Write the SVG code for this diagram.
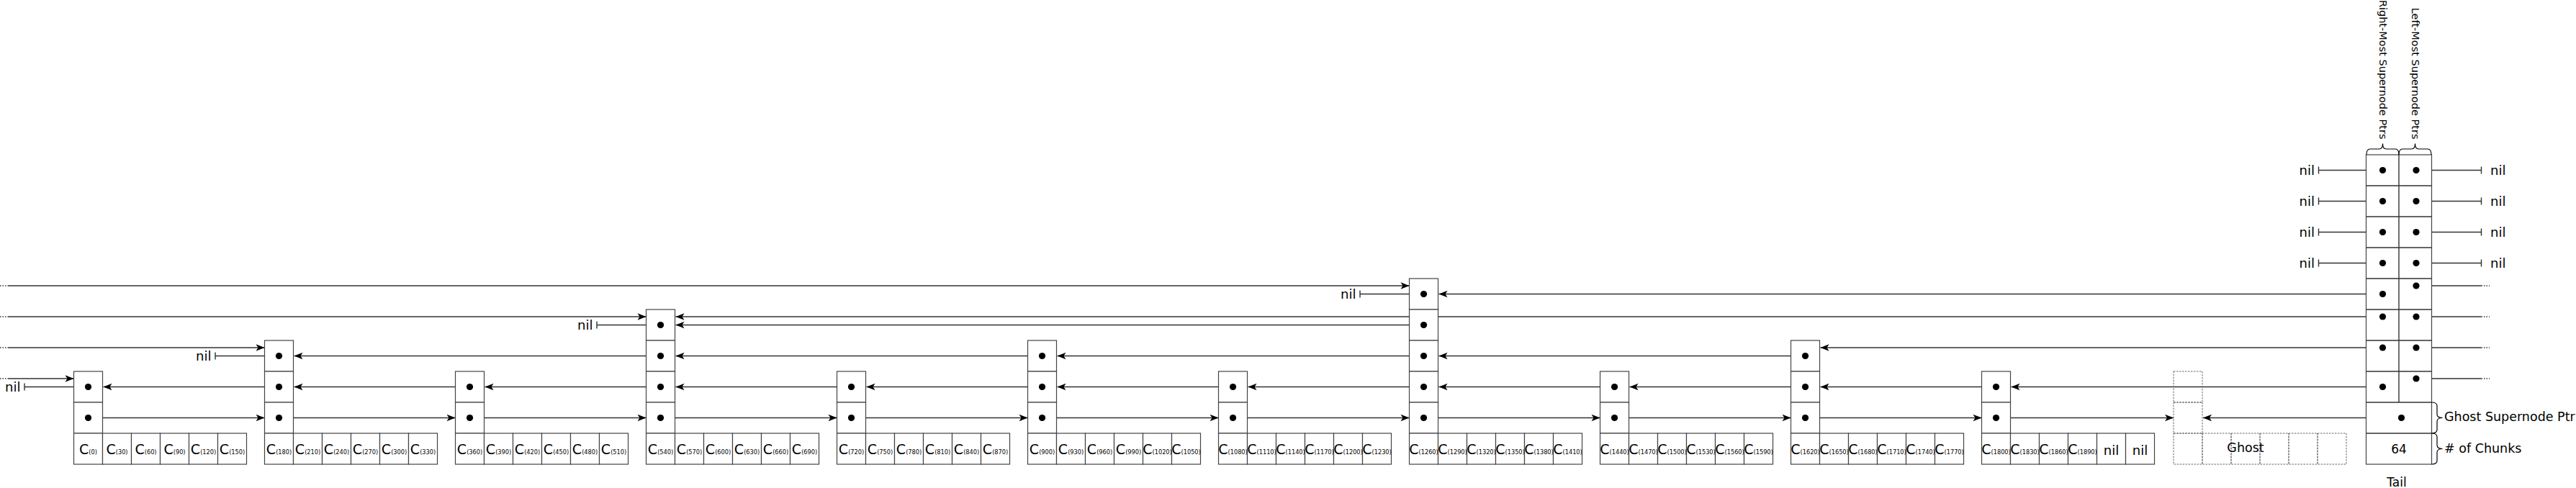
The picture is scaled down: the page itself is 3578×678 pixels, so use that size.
<svg xmlns="http://www.w3.org/2000/svg" width="3578" height="678" viewBox="0 0 3578 678">
<style>
.box{fill:#fff;stroke:#444;stroke-width:1.2}
.gh{fill:none;stroke:#666;stroke-width:1;stroke-dasharray:2.5,1.5}
.ln{fill:none;stroke:#333;stroke-width:1.4}
.ar{fill:none;stroke:#333;stroke-width:1.4;marker-end:url(#ah)}
.dt{fill:none;stroke:#333;stroke-width:1.4;stroke-dasharray:1.5,2}
.br{fill:none;stroke:#000;stroke-width:1.2}
.d{fill:#000}
.t{font-family:"DejaVu Sans","Liberation Sans",sans-serif;fill:#000}
.c{font-size:19px;text-anchor:middle}
.s{font-size:8.2px}
.nil{font-size:18px}
.lab{font-size:17.5px}
.vl{font-size:14.5px;text-anchor:end}
</style>
<defs>
<marker id="ah" viewBox="-13 -6 14 12" refX="0" refY="0" markerWidth="14" markerHeight="12" markerUnits="userSpaceOnUse" orient="auto"><path d="M0,0 L-12,-4.8 L-9,0 L-12,4.8 Z" fill="#000"/></marker>
</defs>
<rect width="3578" height="678" fill="#fff"/>

<g id="connectors">
<!-- level 0 forward -->
<path class="ar" d="M122.5,580.5 H367.5"/>
<path class="ar" d="M387.5,580.5 H632.5"/>
<path class="ar" d="M652.5,580.5 H897.5"/>
<path class="ar" d="M917.5,580.5 H1162.5"/>
<path class="ar" d="M1182.5,580.5 H1427.5"/>
<path class="ar" d="M1447.5,580.5 H1692.5"/>
<path class="ar" d="M1712.5,580.5 H1957.5"/>
<path class="ar" d="M1977.5,580.5 H2222.5"/>
<path class="ar" d="M2242.5,580.5 H2487.5"/>
<path class="ar" d="M2507.5,580.5 H2752.5"/>
<path class="ar" d="M2772.5,580.5 H3019"/>
<!-- level 1 backward -->
<path class="ln" d="M122.5,537.5 H34 M34,532.5 V542.5"/>
<path class="ar" d="M387.5,537.5 H143.5"/>
<path class="ar" d="M652.5,537.5 H408.5"/>
<path class="ar" d="M917.5,537.5 H673.5"/>
<path class="ar" d="M1182.5,537.5 H938.5"/>
<path class="ar" d="M1447.5,537.5 H1203.5"/>
<path class="ar" d="M1712.5,537.5 H1468.5"/>
<path class="ar" d="M1977.5,537.5 H1733.5"/>
<path class="ar" d="M2242.5,537.5 H1998.5"/>
<path class="ar" d="M2507.5,537.5 H2263.5"/>
<path class="ar" d="M2772.5,537.5 H2528.5"/>
<!-- level 2 backward -->
<path class="ln" d="M387.5,494.5 H299 M299,489.5 V499.5"/>
<path class="ar" d="M917.5,494.5 H408.5"/>
<path class="ar" d="M1447.5,494.5 H938.5"/>
<path class="ar" d="M1977.5,494.5 H1468.5"/>
<path class="ar" d="M2507.5,494.5 H1998.5"/>
<!-- level 3 backward -->
<path class="ln" d="M917.5,451.5 H829 M829,446.5 V456.5"/>
<path class="ar" d="M1977.5,451.5 H938.5"/>
<!-- level 4 backward -->
<path class="ln" d="M1977.5,408.5 H1889 M1889,403.5 V413.5"/>
<!-- wrap-around from left -->
<path class="dt" d="M0,397 H11 M0,440 H11 M0,483 H11 M0,526 H11"/>
<path class="ar" d="M11,397 H1957.5"/>
<path class="ar" d="M11,440 H897.5"/>
<path class="ar" d="M11,483 H367.5"/>
<path class="ar" d="M11,526 H102.5"/>
<!-- tail right-most pointers -->
<path class="ln" d="M3309.5,236.5 H3220.5 M3220.5,231.5 V241.5"/>
<path class="ln" d="M3309.5,279.5 H3220.5 M3220.5,274.5 V284.5"/>
<path class="ln" d="M3309.5,322.5 H3220.5 M3220.5,317.5 V327.5"/>
<path class="ln" d="M3309.5,365.5 H3220.5 M3220.5,360.5 V370.5"/>
<path class="ar" d="M3309.5,408.5 H1998.5"/>
<path class="ar" d="M3309.5,440 H938.5"/>
<path class="ar" d="M3309.5,483 H2528.5"/>
<path class="ar" d="M3309.5,537.5 H2793.5"/>
<path class="ar" d="M3335.5,580.5 H3060"/>
<!-- tail left-most pointers -->
<path class="ln" d="M3356,236.5 H3446.5 M3446.5,231.5 V241.5"/>
<path class="ln" d="M3356,279.5 H3446.5 M3446.5,274.5 V284.5"/>
<path class="ln" d="M3356,322.5 H3446.5 M3446.5,317.5 V327.5"/>
<path class="ln" d="M3356,365.5 H3446.5 M3446.5,360.5 V370.5"/>
<path class="ln" d="M3356,397 H3446.5 M3356,440 H3446.5 M3356,483 H3446.5 M3356,526 H3446.5"/>
<path class="dt" d="M3446.5,397 H3458 M3446.5,440 H3458 M3446.5,483 H3458 M3446.5,526 H3458"/>
</g>

<g id="node-0">
<rect class="box" x="102.5" y="516" width="40" height="43"/><rect class="box" x="102.5" y="559" width="40" height="43"/>
<rect class="box" x="102.5" y="602" width="40" height="43"/><rect class="box" x="142.5" y="602" width="40" height="43"/><rect class="box" x="182.5" y="602" width="40" height="43"/><rect class="box" x="222.5" y="602" width="40" height="43"/><rect class="box" x="262.5" y="602" width="40" height="43"/><rect class="box" x="302.5" y="602" width="40" height="43"/>
<circle class="d" cx="122.5" cy="537.5" r="4.6"/><circle class="d" cx="122.5" cy="580.5" r="4.6"/>
<text class="t nil" x="28.5" y="543.5" text-anchor="end">nil</text>
<text class="t c" x="122.5" y="631">C<tspan class="s">(0)</tspan></text>
<text class="t c" x="162.5" y="631">C<tspan class="s">(30)</tspan></text>
<text class="t c" x="202.5" y="631">C<tspan class="s">(60)</tspan></text>
<text class="t c" x="242.5" y="631">C<tspan class="s">(90)</tspan></text>
<text class="t c" x="282.5" y="631">C<tspan class="s">(120)</tspan></text>
<text class="t c" x="322.5" y="631">C<tspan class="s">(150)</tspan></text>
</g>

<g id="node-1">
<rect class="box" x="367.5" y="473" width="40" height="43"/><rect class="box" x="367.5" y="516" width="40" height="43"/><rect class="box" x="367.5" y="559" width="40" height="43"/>
<rect class="box" x="367.5" y="602" width="40" height="43"/><rect class="box" x="407.5" y="602" width="40" height="43"/><rect class="box" x="447.5" y="602" width="40" height="43"/><rect class="box" x="487.5" y="602" width="40" height="43"/><rect class="box" x="527.5" y="602" width="40" height="43"/><rect class="box" x="567.5" y="602" width="40" height="43"/>
<circle class="d" cx="387.5" cy="494.5" r="4.6"/><circle class="d" cx="387.5" cy="537.5" r="4.6"/><circle class="d" cx="387.5" cy="580.5" r="4.6"/>
<text class="t nil" x="293.5" y="500.5" text-anchor="end">nil</text>
<text class="t c" x="387.5" y="631">C<tspan class="s">(180)</tspan></text>
<text class="t c" x="427.5" y="631">C<tspan class="s">(210)</tspan></text>
<text class="t c" x="467.5" y="631">C<tspan class="s">(240)</tspan></text>
<text class="t c" x="507.5" y="631">C<tspan class="s">(270)</tspan></text>
<text class="t c" x="547.5" y="631">C<tspan class="s">(300)</tspan></text>
<text class="t c" x="587.5" y="631">C<tspan class="s">(330)</tspan></text>
</g>

<g id="node-2">
<rect class="box" x="632.5" y="516" width="40" height="43"/><rect class="box" x="632.5" y="559" width="40" height="43"/>
<rect class="box" x="632.5" y="602" width="40" height="43"/><rect class="box" x="672.5" y="602" width="40" height="43"/><rect class="box" x="712.5" y="602" width="40" height="43"/><rect class="box" x="752.5" y="602" width="40" height="43"/><rect class="box" x="792.5" y="602" width="40" height="43"/><rect class="box" x="832.5" y="602" width="40" height="43"/>
<circle class="d" cx="652.5" cy="537.5" r="4.6"/><circle class="d" cx="652.5" cy="580.5" r="4.6"/>
<text class="t c" x="652.5" y="631">C<tspan class="s">(360)</tspan></text>
<text class="t c" x="692.5" y="631">C<tspan class="s">(390)</tspan></text>
<text class="t c" x="732.5" y="631">C<tspan class="s">(420)</tspan></text>
<text class="t c" x="772.5" y="631">C<tspan class="s">(450)</tspan></text>
<text class="t c" x="812.5" y="631">C<tspan class="s">(480)</tspan></text>
<text class="t c" x="852.5" y="631">C<tspan class="s">(510)</tspan></text>
</g>

<g id="node-3">
<rect class="box" x="897.5" y="430" width="40" height="43"/><rect class="box" x="897.5" y="473" width="40" height="43"/><rect class="box" x="897.5" y="516" width="40" height="43"/><rect class="box" x="897.5" y="559" width="40" height="43"/>
<rect class="box" x="897.5" y="602" width="40" height="43"/><rect class="box" x="937.5" y="602" width="40" height="43"/><rect class="box" x="977.5" y="602" width="40" height="43"/><rect class="box" x="1017.5" y="602" width="40" height="43"/><rect class="box" x="1057.5" y="602" width="40" height="43"/><rect class="box" x="1097.5" y="602" width="40" height="43"/>
<circle class="d" cx="917.5" cy="451.5" r="4.6"/><circle class="d" cx="917.5" cy="494.5" r="4.6"/><circle class="d" cx="917.5" cy="537.5" r="4.6"/><circle class="d" cx="917.5" cy="580.5" r="4.6"/>
<text class="t nil" x="823.5" y="457.5" text-anchor="end">nil</text>
<text class="t c" x="917.5" y="631">C<tspan class="s">(540)</tspan></text>
<text class="t c" x="957.5" y="631">C<tspan class="s">(570)</tspan></text>
<text class="t c" x="997.5" y="631">C<tspan class="s">(600)</tspan></text>
<text class="t c" x="1037.5" y="631">C<tspan class="s">(630)</tspan></text>
<text class="t c" x="1077.5" y="631">C<tspan class="s">(660)</tspan></text>
<text class="t c" x="1117.5" y="631">C<tspan class="s">(690)</tspan></text>
</g>

<g id="node-4">
<rect class="box" x="1162.5" y="516" width="40" height="43"/><rect class="box" x="1162.5" y="559" width="40" height="43"/>
<rect class="box" x="1162.5" y="602" width="40" height="43"/><rect class="box" x="1202.5" y="602" width="40" height="43"/><rect class="box" x="1242.5" y="602" width="40" height="43"/><rect class="box" x="1282.5" y="602" width="40" height="43"/><rect class="box" x="1322.5" y="602" width="40" height="43"/><rect class="box" x="1362.5" y="602" width="40" height="43"/>
<circle class="d" cx="1182.5" cy="537.5" r="4.6"/><circle class="d" cx="1182.5" cy="580.5" r="4.6"/>
<text class="t c" x="1182.5" y="631">C<tspan class="s">(720)</tspan></text>
<text class="t c" x="1222.5" y="631">C<tspan class="s">(750)</tspan></text>
<text class="t c" x="1262.5" y="631">C<tspan class="s">(780)</tspan></text>
<text class="t c" x="1302.5" y="631">C<tspan class="s">(810)</tspan></text>
<text class="t c" x="1342.5" y="631">C<tspan class="s">(840)</tspan></text>
<text class="t c" x="1382.5" y="631">C<tspan class="s">(870)</tspan></text>
</g>

<g id="node-5">
<rect class="box" x="1427.5" y="473" width="40" height="43"/><rect class="box" x="1427.5" y="516" width="40" height="43"/><rect class="box" x="1427.5" y="559" width="40" height="43"/>
<rect class="box" x="1427.5" y="602" width="40" height="43"/><rect class="box" x="1467.5" y="602" width="40" height="43"/><rect class="box" x="1507.5" y="602" width="40" height="43"/><rect class="box" x="1547.5" y="602" width="40" height="43"/><rect class="box" x="1587.5" y="602" width="40" height="43"/><rect class="box" x="1627.5" y="602" width="40" height="43"/>
<circle class="d" cx="1447.5" cy="494.5" r="4.6"/><circle class="d" cx="1447.5" cy="537.5" r="4.6"/><circle class="d" cx="1447.5" cy="580.5" r="4.6"/>
<text class="t c" x="1447.5" y="631">C<tspan class="s">(900)</tspan></text>
<text class="t c" x="1487.5" y="631">C<tspan class="s">(930)</tspan></text>
<text class="t c" x="1527.5" y="631">C<tspan class="s">(960)</tspan></text>
<text class="t c" x="1567.5" y="631">C<tspan class="s">(990)</tspan></text>
<text class="t c" x="1607.5" y="631">C<tspan class="s">(1020)</tspan></text>
<text class="t c" x="1647.5" y="631">C<tspan class="s">(1050)</tspan></text>
</g>

<g id="node-6">
<rect class="box" x="1692.5" y="516" width="40" height="43"/><rect class="box" x="1692.5" y="559" width="40" height="43"/>
<rect class="box" x="1692.5" y="602" width="40" height="43"/><rect class="box" x="1732.5" y="602" width="40" height="43"/><rect class="box" x="1772.5" y="602" width="40" height="43"/><rect class="box" x="1812.5" y="602" width="40" height="43"/><rect class="box" x="1852.5" y="602" width="40" height="43"/><rect class="box" x="1892.5" y="602" width="40" height="43"/>
<circle class="d" cx="1712.5" cy="537.5" r="4.6"/><circle class="d" cx="1712.5" cy="580.5" r="4.6"/>
<text class="t c" x="1712.5" y="631">C<tspan class="s">(1080)</tspan></text>
<text class="t c" x="1752.5" y="631">C<tspan class="s">(1110)</tspan></text>
<text class="t c" x="1792.5" y="631">C<tspan class="s">(1140)</tspan></text>
<text class="t c" x="1832.5" y="631">C<tspan class="s">(1170)</tspan></text>
<text class="t c" x="1872.5" y="631">C<tspan class="s">(1200)</tspan></text>
<text class="t c" x="1912.5" y="631">C<tspan class="s">(1230)</tspan></text>
</g>

<g id="node-7">
<rect class="box" x="1957.5" y="387" width="40" height="43"/><rect class="box" x="1957.5" y="430" width="40" height="43"/><rect class="box" x="1957.5" y="473" width="40" height="43"/><rect class="box" x="1957.5" y="516" width="40" height="43"/><rect class="box" x="1957.5" y="559" width="40" height="43"/>
<rect class="box" x="1957.5" y="602" width="40" height="43"/><rect class="box" x="1997.5" y="602" width="40" height="43"/><rect class="box" x="2037.5" y="602" width="40" height="43"/><rect class="box" x="2077.5" y="602" width="40" height="43"/><rect class="box" x="2117.5" y="602" width="40" height="43"/><rect class="box" x="2157.5" y="602" width="40" height="43"/>
<circle class="d" cx="1977.5" cy="408.5" r="4.6"/><circle class="d" cx="1977.5" cy="451.5" r="4.6"/><circle class="d" cx="1977.5" cy="494.5" r="4.6"/><circle class="d" cx="1977.5" cy="537.5" r="4.6"/><circle class="d" cx="1977.5" cy="580.5" r="4.6"/>
<text class="t nil" x="1883.5" y="414.5" text-anchor="end">nil</text>
<text class="t c" x="1977.5" y="631">C<tspan class="s">(1260)</tspan></text>
<text class="t c" x="2017.5" y="631">C<tspan class="s">(1290)</tspan></text>
<text class="t c" x="2057.5" y="631">C<tspan class="s">(1320)</tspan></text>
<text class="t c" x="2097.5" y="631">C<tspan class="s">(1350)</tspan></text>
<text class="t c" x="2137.5" y="631">C<tspan class="s">(1380)</tspan></text>
<text class="t c" x="2177.5" y="631">C<tspan class="s">(1410)</tspan></text>
</g>

<g id="node-8">
<rect class="box" x="2222.5" y="516" width="40" height="43"/><rect class="box" x="2222.5" y="559" width="40" height="43"/>
<rect class="box" x="2222.5" y="602" width="40" height="43"/><rect class="box" x="2262.5" y="602" width="40" height="43"/><rect class="box" x="2302.5" y="602" width="40" height="43"/><rect class="box" x="2342.5" y="602" width="40" height="43"/><rect class="box" x="2382.5" y="602" width="40" height="43"/><rect class="box" x="2422.5" y="602" width="40" height="43"/>
<circle class="d" cx="2242.5" cy="537.5" r="4.6"/><circle class="d" cx="2242.5" cy="580.5" r="4.6"/>
<text class="t c" x="2242.5" y="631">C<tspan class="s">(1440)</tspan></text>
<text class="t c" x="2282.5" y="631">C<tspan class="s">(1470)</tspan></text>
<text class="t c" x="2322.5" y="631">C<tspan class="s">(1500)</tspan></text>
<text class="t c" x="2362.5" y="631">C<tspan class="s">(1530)</tspan></text>
<text class="t c" x="2402.5" y="631">C<tspan class="s">(1560)</tspan></text>
<text class="t c" x="2442.5" y="631">C<tspan class="s">(1590)</tspan></text>
</g>

<g id="node-9">
<rect class="box" x="2487.5" y="473" width="40" height="43"/><rect class="box" x="2487.5" y="516" width="40" height="43"/><rect class="box" x="2487.5" y="559" width="40" height="43"/>
<rect class="box" x="2487.5" y="602" width="40" height="43"/><rect class="box" x="2527.5" y="602" width="40" height="43"/><rect class="box" x="2567.5" y="602" width="40" height="43"/><rect class="box" x="2607.5" y="602" width="40" height="43"/><rect class="box" x="2647.5" y="602" width="40" height="43"/><rect class="box" x="2687.5" y="602" width="40" height="43"/>
<circle class="d" cx="2507.5" cy="494.5" r="4.6"/><circle class="d" cx="2507.5" cy="537.5" r="4.6"/><circle class="d" cx="2507.5" cy="580.5" r="4.6"/>
<text class="t c" x="2507.5" y="631">C<tspan class="s">(1620)</tspan></text>
<text class="t c" x="2547.5" y="631">C<tspan class="s">(1650)</tspan></text>
<text class="t c" x="2587.5" y="631">C<tspan class="s">(1680)</tspan></text>
<text class="t c" x="2627.5" y="631">C<tspan class="s">(1710)</tspan></text>
<text class="t c" x="2667.5" y="631">C<tspan class="s">(1740)</tspan></text>
<text class="t c" x="2707.5" y="631">C<tspan class="s">(1770)</tspan></text>
</g>

<g id="node-10">
<rect class="box" x="2752.5" y="516" width="40" height="43"/><rect class="box" x="2752.5" y="559" width="40" height="43"/>
<rect class="box" x="2752.5" y="602" width="40" height="43"/><rect class="box" x="2792.5" y="602" width="40" height="43"/><rect class="box" x="2832.5" y="602" width="40" height="43"/><rect class="box" x="2872.5" y="602" width="40" height="43"/><rect class="box" x="2912.5" y="602" width="40" height="43"/><rect class="box" x="2952.5" y="602" width="40" height="43"/>
<circle class="d" cx="2772.5" cy="537.5" r="4.6"/><circle class="d" cx="2772.5" cy="580.5" r="4.6"/>
<text class="t c" x="2772.5" y="631">C<tspan class="s">(1800)</tspan></text>
<text class="t c" x="2812.5" y="631">C<tspan class="s">(1830)</tspan></text>
<text class="t c" x="2852.5" y="631">C<tspan class="s">(1860)</tspan></text>
<text class="t c" x="2892.5" y="631">C<tspan class="s">(1890)</tspan></text>
<text class="t nil" x="2932.5" y="631.5" text-anchor="middle">nil</text>
<text class="t nil" x="2972.5" y="631.5" text-anchor="middle">nil</text>
</g>

<g id="ghost">
<rect class="gh" x="3019" y="516" width="40" height="43"/><rect class="gh" x="3019" y="559" width="40" height="43"/>
<rect class="gh" x="3019" y="602" width="40" height="43"/><rect class="gh" x="3059" y="602" width="40" height="43"/><rect class="gh" x="3099" y="602" width="40" height="43"/><rect class="gh" x="3139" y="602" width="40" height="43"/><rect class="gh" x="3179" y="602" width="40" height="43"/><rect class="gh" x="3219" y="602" width="40" height="43"/>
<text class="t lab" x="3119" y="628" text-anchor="middle">Ghost</text>
</g>

<g id="tail">
<rect class="box" x="3286.5" y="215" width="91" height="430"/>
<path class="ln" d="M3286.5,258 H3377.5 M3286.5,301 H3377.5 M3286.5,344 H3377.5 M3286.5,387 H3377.5 M3286.5,430 H3377.5 M3286.5,473 H3377.5 M3286.5,516 H3377.5 M3286.5,559 H3377.5 M3286.5,602 H3377.5 M3332,215 V559"/>
<circle class="d" cx="3309.5" cy="236.5" r="4.6"/><circle class="d" cx="3309.5" cy="279.5" r="4.6"/><circle class="d" cx="3309.5" cy="322.5" r="4.6"/><circle class="d" cx="3309.5" cy="365.5" r="4.6"/>
<circle class="d" cx="3309.5" cy="408.5" r="4.6"/><circle class="d" cx="3309.5" cy="440" r="4.6"/><circle class="d" cx="3309.5" cy="483" r="4.6"/><circle class="d" cx="3309.5" cy="537.5" r="4.6"/>
<circle class="d" cx="3356" cy="236.5" r="4.6"/><circle class="d" cx="3356" cy="279.5" r="4.6"/><circle class="d" cx="3356" cy="322.5" r="4.6"/><circle class="d" cx="3356" cy="365.5" r="4.6"/>
<circle class="d" cx="3356" cy="397" r="4.6"/><circle class="d" cx="3356" cy="440" r="4.6"/><circle class="d" cx="3356" cy="483" r="4.6"/><circle class="d" cx="3356" cy="526" r="4.6"/>
<circle class="d" cx="3335.5" cy="580.5" r="4.6"/>
<text class="t" x="3332" y="630" font-size="17" text-anchor="middle">64</text>
<text class="t nil" x="3215" y="242.5" text-anchor="end">nil</text>
<text class="t nil" x="3215" y="285.5" text-anchor="end">nil</text>
<text class="t nil" x="3215" y="328.5" text-anchor="end">nil</text>
<text class="t nil" x="3215" y="371.5" text-anchor="end">nil</text>
<text class="t nil" x="3459" y="242.5">nil</text>
<text class="t nil" x="3459" y="285.5">nil</text>
<text class="t nil" x="3459" y="328.5">nil</text>
<text class="t nil" x="3459" y="371.5">nil</text>
<path class="br" d="M3287,215 Q3287,207 3292,207 H3304.5 Q3309.5,207 3309.5,199.5 Q3309.5,207 3314.5,207 H3327 Q3332,207 3332,215"/>
<path class="br" d="M3332,215 Q3332,207 3337,207 H3349.5 Q3354.5,207 3354.5,199.5 Q3354.5,207 3359.5,207 H3372 Q3377,207 3377,215"/>
<path class="br" d="M3377.5,559 Q3385,559 3385,564 V575.5 Q3385,580.5 3392.5,580.5 Q3385,580.5 3385,585.5 V597 Q3385,602 3377.5,602"/>
<path class="br" d="M3377.5,602 Q3385,602 3385,607 V618.5 Q3385,623.5 3392.5,623.5 Q3385,623.5 3385,628.5 V640 Q3385,645 3377.5,645"/>
<text class="t vl" transform="translate(3305,193.5) rotate(90)">Right-Most Supernode Ptrs</text>
<text class="t vl" transform="translate(3350,193.5) rotate(90)">Left-Most Supernode Ptrs</text>
<text class="t lab" x="3395" y="585">Ghost Supernode Ptr</text>
<text class="t lab" x="3395" y="628.5"># of Chunks</text>
<text class="t" x="3329" y="676" font-size="17" text-anchor="middle">Tail</text>
</g>
</svg>
